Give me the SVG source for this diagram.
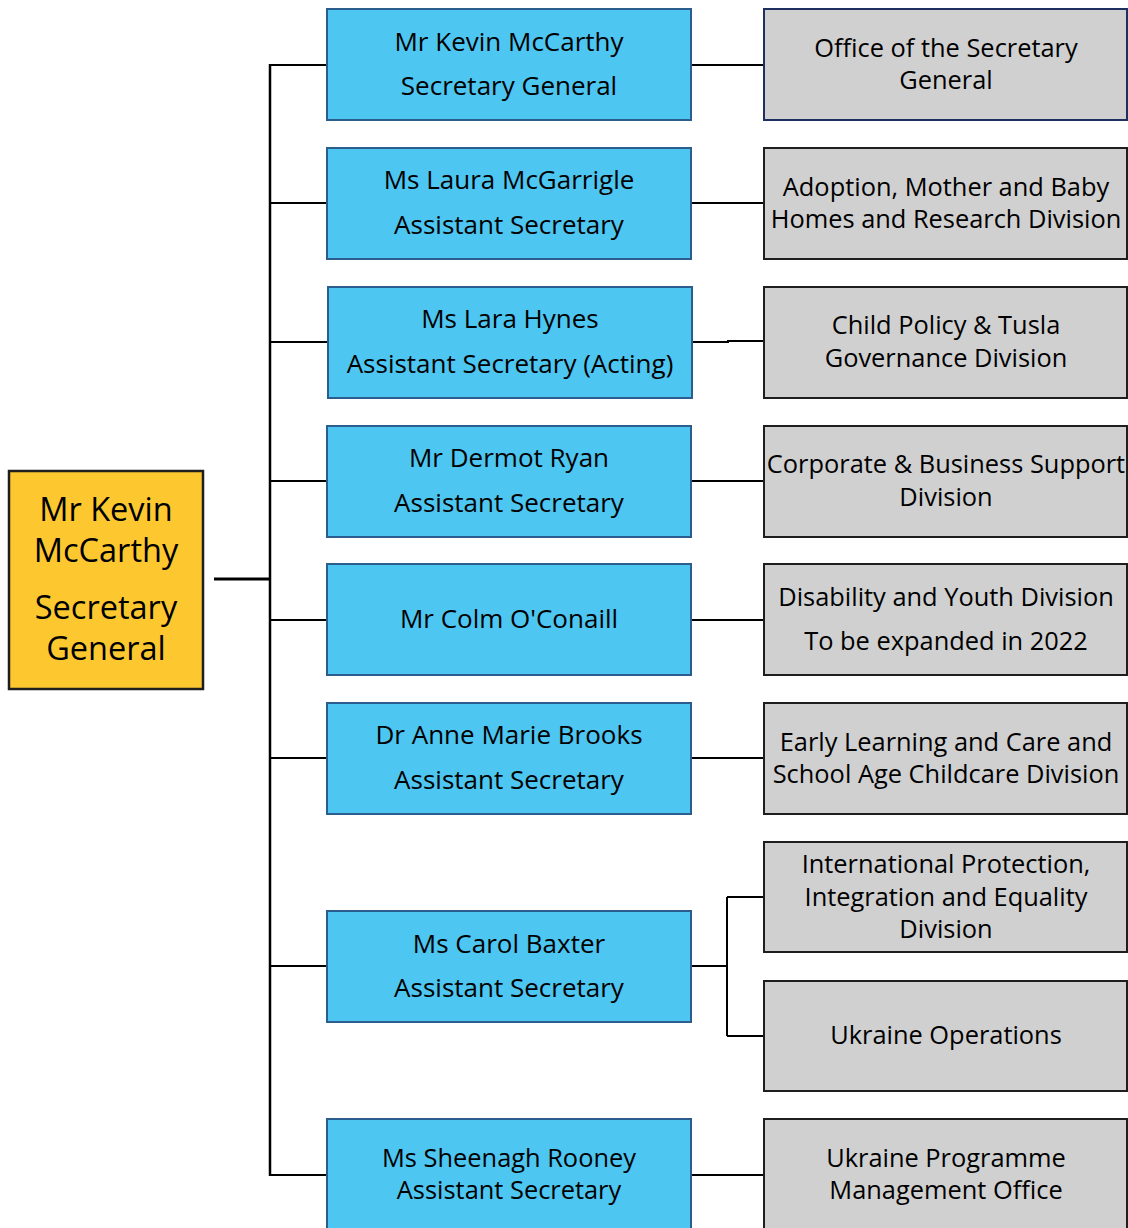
<svg xmlns="http://www.w3.org/2000/svg" width="1128" height="1228" viewBox="0 0 1128 1228">
<style>
text{font-family:"Open Sans",Lato,"Liberation Sans",sans-serif;fill:#000;text-anchor:middle;font-size:26px}
.gt text,#b8 text{font-size:25.4px}
.blue{fill:#4DC6F2;stroke:#2B5E8C;stroke-width:2}
.gray{fill:#D0D0D0;stroke:#1E1E1E;stroke-width:2}
.yel{fill:#FDC82F;stroke:#1E1E1E;stroke-width:2.5}
.big{font-size:32.5px}
.ln{stroke:#000;stroke-width:2;fill:none}
</style>
<rect width="1128" height="1228" fill="#fff"/>
<g id="connectors">
<line class="ln" x1="214" y1="579" x2="271" y2="579" style="stroke-width:3"/>
<line class="ln" x1="270" y1="64" x2="270" y2="1176" style="stroke-width:2.5"/>
<path class="ln" d="M270 65H327M270 203H327M270 342H328M270 481H327M270 620H327M270 758H327M270 966H327M270 1175H327"/>
<path class="ln" d="M691 65H764M691 203H764M692 342H728V341H764M691 481H764M691 620H764M691 758H764M691 1175H764"/>
<path class="ln" d="M691 966H727M727 897V1036M727 897H764M727 1036H764"/>
</g>
<g id="sg"><rect class="yel" x="9" y="471" width="194" height="218"/>
<text class="big" x="106" y="521">Mr Kevin</text><text class="big" x="106" y="562">McCarthy</text>
<text class="big" x="106" y="619">Secretary</text><text class="big" x="106" y="660">General</text></g>
<g id="b1"><rect class="blue" x="327" y="9" width="364" height="111"/><text x="509" y="51">Mr Kevin McCarthy</text><text x="509" y="95">Secretary General</text></g>
<g id="b2"><rect class="blue" x="327" y="148" width="364" height="111"/><text x="509" y="189">Ms Laura McGarrigle</text><text x="509" y="234">Assistant Secretary</text></g>
<g id="b3"><rect class="blue" x="328" y="287" width="364" height="111"/><text x="510" y="328">Ms Lara Hynes</text><text x="510" y="373">Assistant Secretary (Acting)</text></g>
<g id="b4"><rect class="blue" x="327" y="426" width="364" height="111"/><text x="509" y="467">Mr Dermot Ryan</text><text x="509" y="512">Assistant Secretary</text></g>
<g id="b5"><rect class="blue" x="327" y="564" width="364" height="111"/><text x="509" y="628">Mr Colm O'Conaill</text></g>
<g id="b6"><rect class="blue" x="327" y="703" width="364" height="111"/><text x="509" y="744">Dr Anne Marie Brooks</text><text x="509" y="789">Assistant Secretary</text></g>
<g id="b7"><rect class="blue" x="327" y="911" width="364" height="111"/><text x="509" y="953">Ms Carol Baxter</text><text x="509" y="997">Assistant Secretary</text></g>
<g id="b8"><rect class="blue" x="327" y="1119" width="364" height="115"/><text x="509" y="1167">Ms Sheenagh Rooney</text><text x="509" y="1199">Assistant Secretary</text></g>
<g class="gt">
<g id="g1"><rect class="gray" x="764" y="9" width="363" height="111" style="stroke:#1F2F5F"/><text x="946" y="57">Office of the Secretary</text><text x="946" y="89">General</text></g>
<g id="g2"><rect class="gray" x="764" y="148" width="363" height="111"/><text x="946" y="196">Adoption, Mother and Baby</text><text x="946" y="228">Homes and Research Division</text></g>
<g id="g3"><rect class="gray" x="764" y="287" width="363" height="111"/><text x="946" y="334">Child Policy &amp; Tusla</text><text x="946" y="367">Governance Division</text></g>
<g id="g4"><rect class="gray" x="764" y="426" width="363" height="111"/><text x="946" y="473">Corporate &amp; Business Support</text><text x="946" y="506">Division</text></g>
<g id="g5"><rect class="gray" x="764" y="564" width="363" height="111"/><text x="946" y="606">Disability and Youth Division</text><text x="946" y="650">To be expanded in 2022</text></g>
<g id="g6"><rect class="gray" x="764" y="703" width="363" height="111"/><text x="946" y="751">Early Learning and Care and</text><text x="946" y="783">School Age Childcare Division</text></g>
<g id="g7"><rect class="gray" x="764" y="842" width="363" height="110"/><text x="946" y="873">International Protection,</text><text x="946" y="906">Integration and Equality</text><text x="946" y="938">Division</text></g>
<g id="g8"><rect class="gray" x="764" y="981" width="363" height="110"/><text x="946" y="1044">Ukraine Operations</text></g>
<g id="g9"><rect class="gray" x="764" y="1119" width="363" height="115"/><text x="946" y="1167">Ukraine Programme</text><text x="946" y="1199">Management Office</text></g>
</g>
</svg>
